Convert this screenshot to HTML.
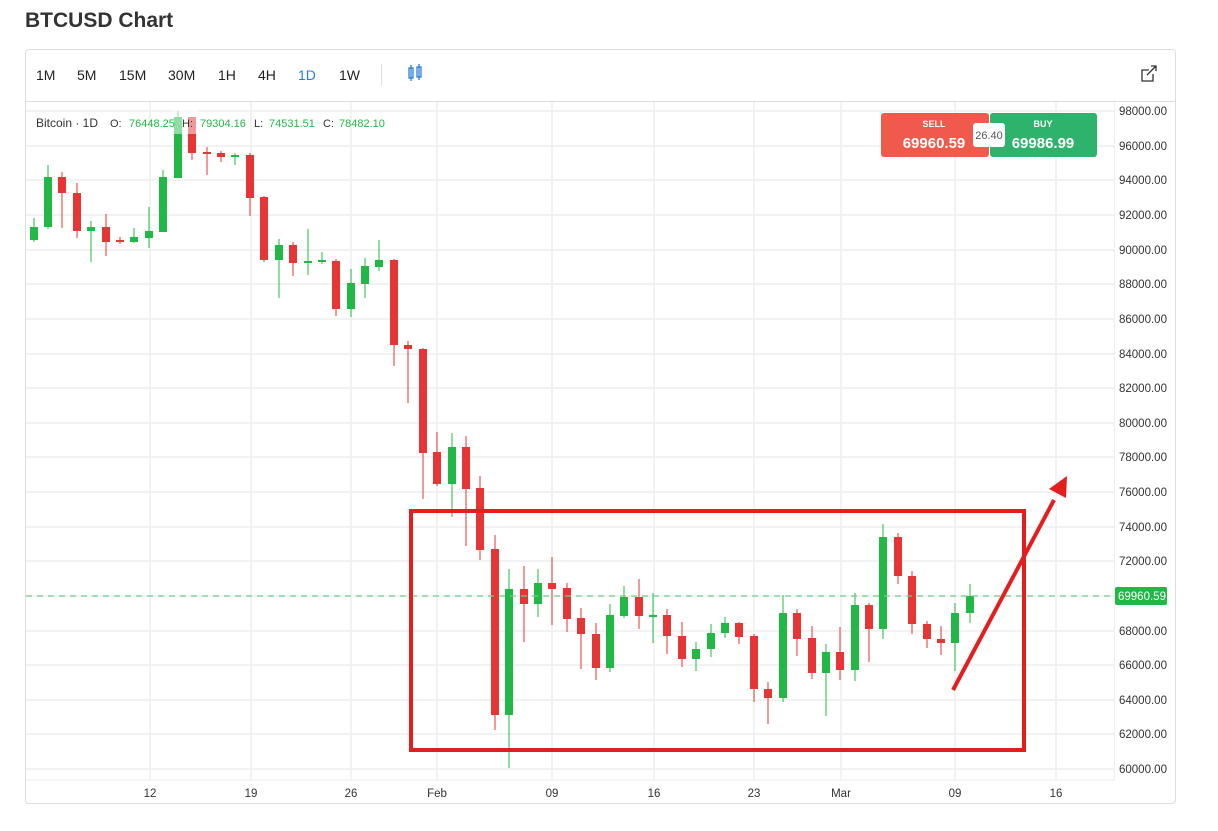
<!DOCTYPE html>
<html><head><meta charset="utf-8"><style>
body{margin:0;background:#fff;width:1218px;height:831px;overflow:hidden;font-family:"Liberation Sans",sans-serif;}
svg{position:absolute;left:0;top:0}
</style></head><body>
<svg width="1218" height="831" viewBox="0 0 1218 831" xmlns="http://www.w3.org/2000/svg" font-family="Liberation Sans, sans-serif">
<text x="25" y="27" font-size="21" font-weight="bold" fill="#333">BTCUSD Chart</text>
<rect x="25.5" y="49.5" width="1150" height="754" rx="3" fill="#fff" stroke="#ddd"/>
<line x1="26" y1="101.5" x2="1175" y2="101.5" stroke="#ddd"/>
<g font-size="14" fill="#222">
<text x="36" y="80">1M</text><text x="77" y="80">5M</text><text x="119" y="80">15M</text><text x="168" y="80">30M</text><text x="218" y="80">1H</text><text x="258" y="80">4H</text><text x="298" y="80" fill="#2a7fd4">1D</text><text x="339" y="80">1W</text>
</g>
<line x1="381.5" y1="64" x2="381.5" y2="86" stroke="#ddd"/>
<g stroke="#2a7fd4" fill="none" stroke-width="1.3"><rect x="409" y="68" width="4" height="10"/><line x1="411" y1="65" x2="411" y2="81"/><rect x="417" y="67" width="4" height="10"/><line x1="419" y1="64" x2="419" y2="80"/></g>
<g stroke="#333" fill="none" stroke-width="1.3"><path d="M1149 70h-7v11h11v-7"/><path d="M1147 75l9-9M1151 66h5v5"/></g>
<!-- grid -->
<g stroke="#eee" stroke-width="1.5">
<line x1="26" y1="111" x2="1114" y2="111"/><line x1="26" y1="146" x2="1114" y2="146"/><line x1="26" y1="180" x2="1114" y2="180"/><line x1="26" y1="215" x2="1114" y2="215"/><line x1="26" y1="250" x2="1114" y2="250"/><line x1="26" y1="284" x2="1114" y2="284"/><line x1="26" y1="319" x2="1114" y2="319"/><line x1="26" y1="354" x2="1114" y2="354"/><line x1="26" y1="388" x2="1114" y2="388"/><line x1="26" y1="423" x2="1114" y2="423"/><line x1="26" y1="457" x2="1114" y2="457"/><line x1="26" y1="492" x2="1114" y2="492"/><line x1="26" y1="527" x2="1114" y2="527"/><line x1="26" y1="561" x2="1114" y2="561"/><line x1="26" y1="596" x2="1114" y2="596"/><line x1="26" y1="631" x2="1114" y2="631"/><line x1="26" y1="665" x2="1114" y2="665"/><line x1="26" y1="700" x2="1114" y2="700"/><line x1="26" y1="734" x2="1114" y2="734"/><line x1="26" y1="769" x2="1114" y2="769"/>
<line x1="150" y1="102" x2="150" y2="780"/><line x1="251" y1="102" x2="251" y2="780"/><line x1="351" y1="102" x2="351" y2="780"/><line x1="437" y1="102" x2="437" y2="780"/><line x1="552" y1="102" x2="552" y2="780"/><line x1="654" y1="102" x2="654" y2="780"/><line x1="754" y1="102" x2="754" y2="780"/><line x1="841" y1="102" x2="841" y2="780"/><line x1="955" y1="102" x2="955" y2="780"/><line x1="1056" y1="102" x2="1056" y2="780"/>
</g>
<line x1="26" y1="780" x2="1114" y2="780" stroke="#eee"/>
<line x1="1114.5" y1="102" x2="1114.5" y2="780" stroke="#eee"/>
<g font-size="11.5" fill="#333" text-anchor="middle">
<text x="150" y="797">12</text><text x="251" y="797">19</text><text x="351" y="797">26</text><text x="437" y="797">Feb</text><text x="552" y="797">09</text><text x="654" y="797">16</text><text x="754" y="797">23</text><text x="841" y="797">Mar</text><text x="955" y="797">09</text><text x="1056" y="797">16</text>
</g>
<g font-size="11.5" fill="#333">
<text x="1119" y="115">98000.00</text><text x="1119" y="150">96000.00</text><text x="1119" y="184">94000.00</text><text x="1119" y="219">92000.00</text><text x="1119" y="254">90000.00</text><text x="1119" y="288">88000.00</text><text x="1119" y="323">86000.00</text><text x="1119" y="358">84000.00</text><text x="1119" y="392">82000.00</text><text x="1119" y="427">80000.00</text><text x="1119" y="461">78000.00</text><text x="1119" y="496">76000.00</text><text x="1119" y="531">74000.00</text><text x="1119" y="565">72000.00</text><text x="1119" y="635">68000.00</text><text x="1119" y="669">66000.00</text><text x="1119" y="704">64000.00</text><text x="1119" y="738">62000.00</text><text x="1119" y="773">60000.00</text>
</g>
<!-- candles -->
<g id="c">
<!-- format: wick line then body -->
<g fill="#22b845" stroke="#22b845">
<line x1="34" y1="218" x2="34" y2="242"/><rect x="30" y="227" width="8" height="13" stroke="none"/>
<line x1="48" y1="165" x2="48" y2="229"/><rect x="44" y="177" width="8" height="50" stroke="none"/>
<line x1="91" y1="221" x2="91" y2="262"/><rect x="87" y="227" width="8" height="4" stroke="none"/>
<line x1="134" y1="228" x2="134" y2="243"/><rect x="130" y="237" width="8" height="5" stroke="none"/>
<line x1="149" y1="207" x2="149" y2="248"/><rect x="145" y="231" width="8" height="7" stroke="none"/>
<line x1="163" y1="170" x2="163" y2="232"/><rect x="159" y="177" width="8" height="55" stroke="none"/>
<line x1="178" y1="111" x2="178" y2="178"/><rect x="174" y="117" width="8" height="61" stroke="none"/>
<line x1="235" y1="153" x2="235" y2="165"/><rect x="231" y="155" width="8" height="2" stroke="none"/>
<line x1="279" y1="239" x2="279" y2="298"/><rect x="275" y="245" width="8" height="15" stroke="none"/>
<line x1="308" y1="229" x2="308" y2="275"/><rect x="304" y="261" width="8" height="2" stroke="none"/>
<line x1="322" y1="252" x2="322" y2="264"/><rect x="318" y="260" width="8" height="2" stroke="none"/>
<line x1="351" y1="269" x2="351" y2="317"/><rect x="347" y="283" width="8" height="26" stroke="none"/>
<line x1="365" y1="258" x2="365" y2="298"/><rect x="361" y="266" width="8" height="18" stroke="none"/>
<line x1="379" y1="240" x2="379" y2="271"/><rect x="375" y="260" width="8" height="7" stroke="none"/>
<line x1="452" y1="433" x2="452" y2="517"/><rect x="448" y="447" width="8" height="37" stroke="none"/>
<line x1="509" y1="569" x2="509" y2="768"/><rect x="505" y="589" width="8" height="126" stroke="none"/>
<line x1="538" y1="569" x2="538" y2="617"/><rect x="534" y="583" width="8" height="21" stroke="none"/>
<line x1="610" y1="604" x2="610" y2="672"/><rect x="606" y="615" width="8" height="53" stroke="none"/>
<line x1="624" y1="586" x2="624" y2="618"/><rect x="620" y="597" width="8" height="19" stroke="none"/>
<line x1="653" y1="593" x2="653" y2="643"/><rect x="649" y="615" width="8" height="2" stroke="none"/>
<line x1="696" y1="642" x2="696" y2="671"/><rect x="692" y="649" width="8" height="10" stroke="none"/>
<line x1="711" y1="624" x2="711" y2="657"/><rect x="707" y="633" width="8" height="16" stroke="none"/>
<line x1="725" y1="617" x2="725" y2="638"/><rect x="721" y="623" width="8" height="10" stroke="none"/>
<line x1="783" y1="595" x2="783" y2="702"/><rect x="779" y="613" width="8" height="85" stroke="none"/>
<line x1="826" y1="644" x2="826" y2="716"/><rect x="822" y="652" width="8" height="21" stroke="none"/>
<line x1="855" y1="593" x2="855" y2="681"/><rect x="851" y="605" width="8" height="65" stroke="none"/>
<line x1="883" y1="524" x2="883" y2="639"/><rect x="879" y="537" width="8" height="92" stroke="none"/>
<line x1="955" y1="603" x2="955" y2="671"/><rect x="951" y="613" width="8" height="30" stroke="none"/>
<line x1="970" y1="584" x2="970" y2="623"/><rect x="966" y="596" width="8" height="17" stroke="none"/>
</g>
<g fill="#e53535" stroke="#e53535">
<line x1="62" y1="172" x2="62" y2="228"/><rect x="58" y="177" width="8" height="16" stroke="none"/>
<line x1="77" y1="183" x2="77" y2="238"/><rect x="73" y="193" width="8" height="38" stroke="none"/>
<line x1="106" y1="214" x2="106" y2="256"/><rect x="102" y="227" width="8" height="15" stroke="none"/>
<line x1="120" y1="237" x2="120" y2="244"/><rect x="116" y="240" width="8" height="2" stroke="none"/>
<line x1="192" y1="117" x2="192" y2="160"/><rect x="188" y="117" width="8" height="36" stroke="none"/>
<line x1="207" y1="147" x2="207" y2="175"/><rect x="203" y="152" width="8" height="2" stroke="none"/>
<line x1="221" y1="151" x2="221" y2="162"/><rect x="217" y="153" width="8" height="4" stroke="none"/>
<line x1="250" y1="153" x2="250" y2="216"/><rect x="246" y="155" width="8" height="43" stroke="none"/>
<line x1="264" y1="196" x2="264" y2="262"/><rect x="260" y="197" width="8" height="63" stroke="none"/>
<line x1="293" y1="242" x2="293" y2="276"/><rect x="289" y="245" width="8" height="18" stroke="none"/>
<line x1="336" y1="259" x2="336" y2="316"/><rect x="332" y="261" width="8" height="48" stroke="none"/>
<line x1="394" y1="259" x2="394" y2="366"/><rect x="390" y="260" width="8" height="85" stroke="none"/>
<line x1="408" y1="341" x2="408" y2="403"/><rect x="404" y="345" width="8" height="4" stroke="none"/>
<line x1="423" y1="348" x2="423" y2="499"/><rect x="419" y="349" width="8" height="104" stroke="none"/>
<line x1="437" y1="432" x2="437" y2="486"/><rect x="433" y="452" width="8" height="32" stroke="none"/>
<line x1="466" y1="436" x2="466" y2="546"/><rect x="462" y="447" width="8" height="42" stroke="none"/>
<line x1="480" y1="476" x2="480" y2="560"/><rect x="476" y="488" width="8" height="62" stroke="none"/>
<line x1="495" y1="535" x2="495" y2="730"/><rect x="491" y="549" width="8" height="166" stroke="none"/>
<line x1="524" y1="566" x2="524" y2="642"/><rect x="520" y="589" width="8" height="15" stroke="none"/>
<line x1="552" y1="557" x2="552" y2="625"/><rect x="548" y="583" width="8" height="6" stroke="none"/>
<line x1="567" y1="583" x2="567" y2="632"/><rect x="563" y="588" width="8" height="31" stroke="none"/>
<line x1="581" y1="608" x2="581" y2="669"/><rect x="577" y="618" width="8" height="16" stroke="none"/>
<line x1="596" y1="623" x2="596" y2="680"/><rect x="592" y="634" width="8" height="34" stroke="none"/>
<line x1="639" y1="579" x2="639" y2="629"/><rect x="635" y="597" width="8" height="19" stroke="none"/>
<line x1="667" y1="609" x2="667" y2="654"/><rect x="663" y="615" width="8" height="21" stroke="none"/>
<line x1="682" y1="622" x2="682" y2="667"/><rect x="678" y="636" width="8" height="23" stroke="none"/>
<line x1="739" y1="622" x2="739" y2="644"/><rect x="735" y="623" width="8" height="14" stroke="none"/>
<line x1="754" y1="634" x2="754" y2="702"/><rect x="750" y="636" width="8" height="53" stroke="none"/>
<line x1="768" y1="682" x2="768" y2="724"/><rect x="764" y="689" width="8" height="9" stroke="none"/>
<line x1="797" y1="609" x2="797" y2="656"/><rect x="793" y="613" width="8" height="26" stroke="none"/>
<line x1="812" y1="626" x2="812" y2="679"/><rect x="808" y="638" width="8" height="35" stroke="none"/>
<line x1="840" y1="627" x2="840" y2="680"/><rect x="836" y="652" width="8" height="18" stroke="none"/>
<line x1="869" y1="603" x2="869" y2="662"/><rect x="865" y="605" width="8" height="24" stroke="none"/>
<line x1="898" y1="533" x2="898" y2="584"/><rect x="894" y="537" width="8" height="39" stroke="none"/>
<line x1="912" y1="571" x2="912" y2="634"/><rect x="908" y="576" width="8" height="48" stroke="none"/>
<line x1="927" y1="621" x2="927" y2="648"/><rect x="923" y="624" width="8" height="15" stroke="none"/>
<line x1="941" y1="626" x2="941" y2="655"/><rect x="937" y="639" width="8" height="4" stroke="none"/>
</g>
</g>
<!-- legend -->
<rect x="172" y="110" width="26" height="24" fill="#fff" opacity="0.5"/>
<g font-size="12">
<text x="36" y="127" fill="#333">Bitcoin · 1D</text>
<text x="110" y="127" fill="#333" font-size="11">O:</text><text x="129" y="127" fill="#22b845" font-size="11">76448.25</text>
<text x="182" y="127" fill="#333" font-size="11">H:</text><text x="200" y="127" fill="#22b845" font-size="11">79304.16</text>
<text x="254" y="127" fill="#333" font-size="11">L:</text><text x="269" y="127" fill="#22b845" font-size="11">74531.51</text>
<text x="323" y="127" fill="#333" font-size="11">C:</text><text x="339" y="127" fill="#22b845" font-size="11">78482.10</text>
</g>
<!-- price line -->
<line x1="26" y1="596" x2="1114" y2="596" stroke="#6fd08a" stroke-width="1.3" stroke-dasharray="6,5"/>
<rect x="1115" y="587" width="52" height="18" rx="2" fill="#22b845"/>
<text x="1118" y="600" font-size="11.5" fill="#fff">69960.59</text>
<!-- sell/buy -->
<rect x="881" y="113" width="108" height="44" rx="3" fill="#ef5a4c"/>
<rect x="990" y="113" width="107" height="44" rx="3" fill="#2db36b"/>
<text x="934" y="127" font-size="9" font-weight="bold" fill="#fff" text-anchor="middle">SELL</text>
<text x="1043" y="127" font-size="9" font-weight="bold" fill="#fff" text-anchor="middle">BUY</text>
<text x="934" y="148" font-size="15" font-weight="bold" fill="#fff" text-anchor="middle">69960.59</text>
<text x="1043" y="148" font-size="15" font-weight="bold" fill="#fff" text-anchor="middle">69986.99</text>
<rect x="973" y="123" width="32" height="24" rx="3" fill="#fff"/>
<text x="989" y="139" font-size="11" fill="#555" text-anchor="middle">26.40</text>
<!-- annotations -->
<rect x="411" y="511" width="613" height="239" fill="none" stroke="#e41e1e" stroke-width="4"/>
<line x1="953" y1="690" x2="1054" y2="500" stroke="#e41e1e" stroke-width="4"/>
<polygon points="1067,476 1066,498 1049,489" fill="#e41e1e"/>
</svg>
</body></html>
